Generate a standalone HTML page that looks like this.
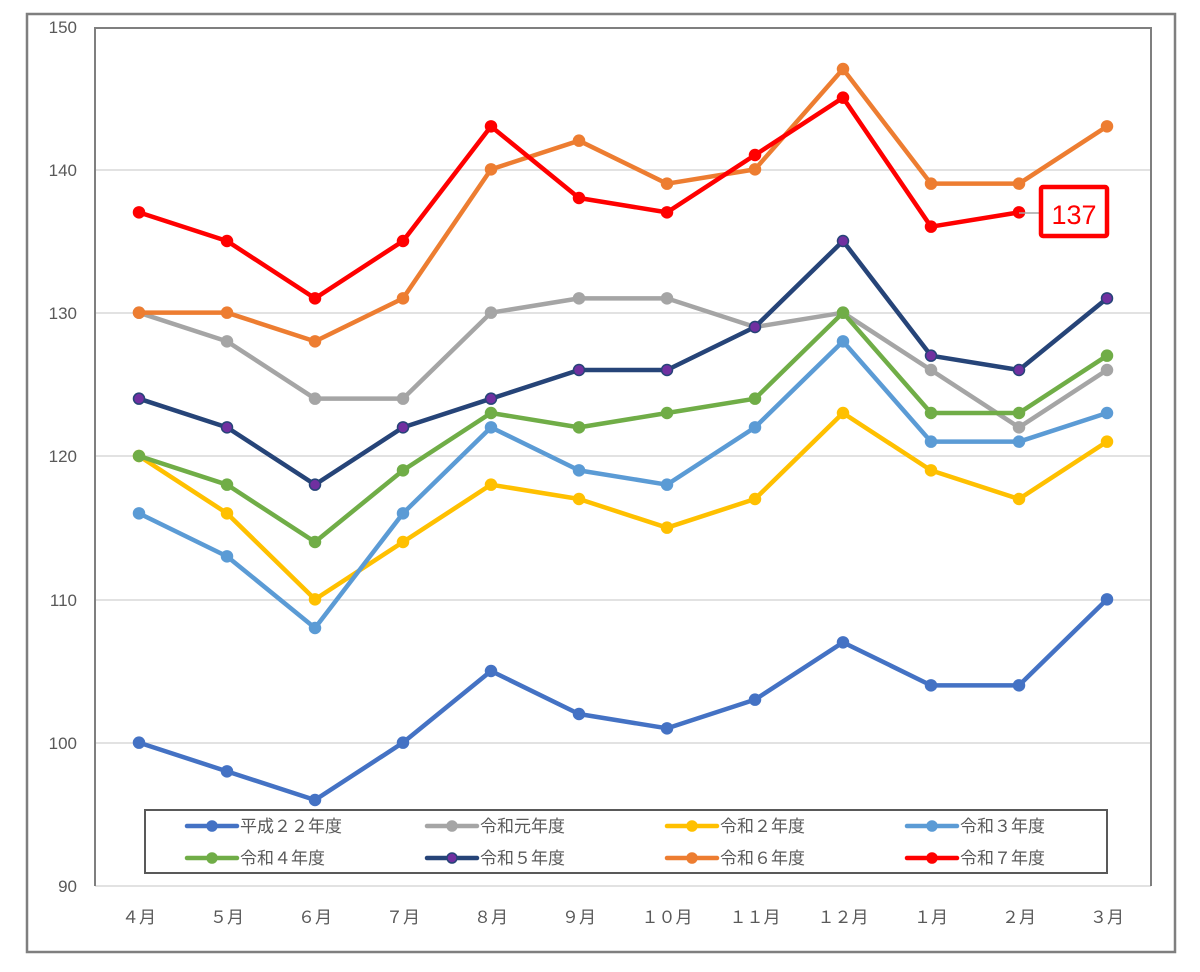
<!DOCTYPE html><html><head><meta charset="utf-8"><style>body{margin:0;background:#fff}svg text{font-family:"Liberation Sans","Noto Sans CJK JP",sans-serif;fill:#595959}</style></head><body>
<svg width="1200" height="967" xmlns="http://www.w3.org/2000/svg">
<rect x="27" y="14" width="1148" height="938" fill="none" stroke="#7f7f7f" stroke-width="2.5"/>
<g stroke="#d9d9d9" stroke-width="1.5">
<line x1="95" y1="170" x2="1151" y2="170"/><line x1="95" y1="313" x2="1151" y2="313"/><line x1="95" y1="456" x2="1151" y2="456"/><line x1="95" y1="600" x2="1151" y2="600"/><line x1="95" y1="743" x2="1151" y2="743"/><line x1="95" y1="886" x2="1151" y2="886"/>
</g>
<polyline points="95,886 95,28 1151,28 1151,886" fill="none" stroke="#7f7f7f" stroke-width="2"/>
<g font-size="17" text-anchor="end">
<text x="77" y="33">150</text><text x="77" y="176">140</text><text x="77" y="319">130</text><text x="77" y="462">120</text><text x="77" y="606">110</text><text x="77" y="749">100</text><text x="77" y="892">90</text>
</g>
<g font-size="17" text-anchor="middle">
<text x="139" y="923">４月</text><text x="227" y="923">５月</text><text x="315" y="923">６月</text><text x="403" y="923">７月</text><text x="491" y="923">８月</text><text x="579" y="923">９月</text><text x="667" y="923">１０月</text><text x="755" y="923">１１月</text><text x="843" y="923">１２月</text><text x="931" y="923">１月</text><text x="1019" y="923">２月</text><text x="1107" y="923">３月</text>
</g>
<g id="series"></g>
<line x1="1019" y1="213" x2="1040" y2="213" stroke="#a5a5a5" stroke-width="1.5"/>
<rect x="1041" y="187" width="66" height="49" rx="2" fill="#fff" stroke="#ff0000" stroke-width="4.5"/>
<text x="1074" y="224" font-size="27" text-anchor="middle" style="fill:#ff0000">137</text>
<rect x="145" y="810" width="962" height="63" fill="#fff" stroke="#595959" stroke-width="2"/>
<g id="legend" font-size="17"></g>
<script>
var S=[["#4472C4","#4472C4",[100,98,96,100,105,102,101,103,107,104,104,110],"平成２２年度"],
["#A5A5A5","#A5A5A5",[130,128,124,124,130,131,131,129,130,126,122,126],"令和元年度"],
["#FFC000","#FFC000",[120,116,110,114,118,117,115,117,123,119,117,121],"令和２年度"],
["#5B9BD5","#5B9BD5",[116,113,108,116,122,119,118,122,128,121,121,123],"令和３年度"],
["#70AD47","#70AD47",[120,118,114,119,123,122,123,124,130,123,123,127],"令和４年度"],
["#264478","#7030A0",[124,122,118,122,124,126,126,129,135,127,126,131],"令和５年度"],
["#ED7D31","#ED7D31",[130,130,128,131,140,142,139,140,147,139,139,143],"令和６年度"],
["#FF0000","#FF0000",[137,135,131,135,143,138,137,141,145,136,137],"令和７年度"]];
var ns="http://www.w3.org/2000/svg",g=document.getElementById("series"),L=document.getElementById("legend");
function el(p,t,a){var e=document.createElementNS(ns,t);for(var k in a)e.setAttribute(k,a[k]);p.appendChild(e);return e}
S.forEach(function(s,i){var pts=s[2].map(function(v,j){return [139+88*j,886-(v-90)*14.333]});
el(g,"polyline",{points:pts.map(function(p){return p.join(",")}).join(" "),fill:"none",stroke:s[0],"stroke-width":4.5,"stroke-linejoin":"round"});
pts.forEach(function(p){el(g,"circle",{cx:p[0],cy:p[1],r:5.5,fill:s[1],stroke:s[0],"stroke-width":1.5})});
var x=187+240*(i%4),y=i<4?826:858;
el(L,"line",{x1:x,y1:y,x2:x+50,y2:y,stroke:s[0],"stroke-width":4.5,"stroke-linecap":"round"});
el(L,"circle",{cx:x+25,cy:y,r:5,fill:s[1],stroke:s[0],"stroke-width":1.5});
var t=el(L,"text",{x:x+53,y:y+6});t.textContent=s[3];});
</script>
</svg></body></html>
